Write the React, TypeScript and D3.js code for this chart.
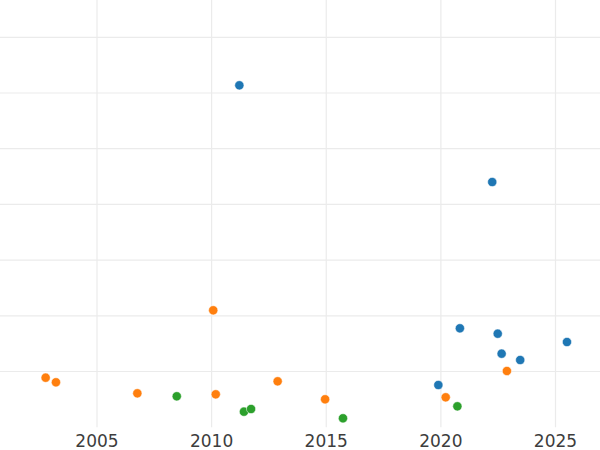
import React from "react";
import * as d3 from "d3";

const blueX = [2011.21, 2022.24, 2020.83, 2022.48, 2022.65, 2023.46, 2025.5, 2019.89];
const blueY = [122.77, 88.04, 35.51, 33.57, 26.39, 24.13, 30.59, 15.15];
const orangeX = [2002.76, 2003.21, 2006.76, 2010.07, 2010.18, 2012.88, 2014.95, 2020.21, 2022.88];
const orangeY = [17.77, 16.12, 12.17, 41.98, 11.81, 16.48, 10.02, 10.74, 20.18];
const greenX = [2008.48, 2011.41, 2011.72, 2015.73, 2020.72];
const greenY = [11.1, 5.57, 6.54, 3.2, 7.5];
const xTicks = [2005, 2010, 2015, 2020, 2025];
const yTicks = [20, 40, 60, 80, 100, 120, 140];

const series = [
  { xs: blueX, ys: blueY, color: "#1f77b4" },
  { xs: orangeX, ys: orangeY, color: "#ff7f0e" },
  { xs: greenX, ys: greenY, color: "#2ca02c" },
];

export default function App() {
  const W = 600;
  const H = 450;
  const bottom = 427.2;
  const x = d3.scaleLinear().domain([2000.769, 2026.941]).range([0, W]);
  const y = d3.scaleLinear().domain([0, 153.4]).range([bottom, 0]);
  return (
    <svg
      width={W}
      height={H}
      style={{ position: "absolute", left: 0, top: 0, background: "#fff" }}
    >
      <rect x={0} y={0} width={W} height={bottom} fill="#fff" />
      {yTicks.map((t) => (
        <line key={"y" + t} x1={0} x2={W} y1={y(t)} y2={y(t)} stroke="#ebebeb" strokeWidth={1.2} />
      ))}
      {xTicks.map((t) => (
        <line key={"x" + t} x1={x(t)} x2={x(t)} y1={0} y2={bottom} stroke="#ebebeb" strokeWidth={1.2} />
      ))}
      {series.map((s, si) =>
        s.xs.map((xv, i) => (
          <circle
            key={si + "-" + i}
            cx={x(xv)}
            cy={y(s.ys[i])}
            r={4.6}
            fill={s.color}
            stroke="#fff"
            strokeWidth={0.5}
          />
        ))
      )}
      {xTicks.map((t) => (
        <text
          key={"l" + t}
          x={x(t)}
          y={446.5}
          textAnchor="middle"
          fontFamily="DejaVu Sans"
          fontSize={17}
          fill="#3d3d3d"
        >
          {t}
        </text>
      ))}
    </svg>
  );
}
